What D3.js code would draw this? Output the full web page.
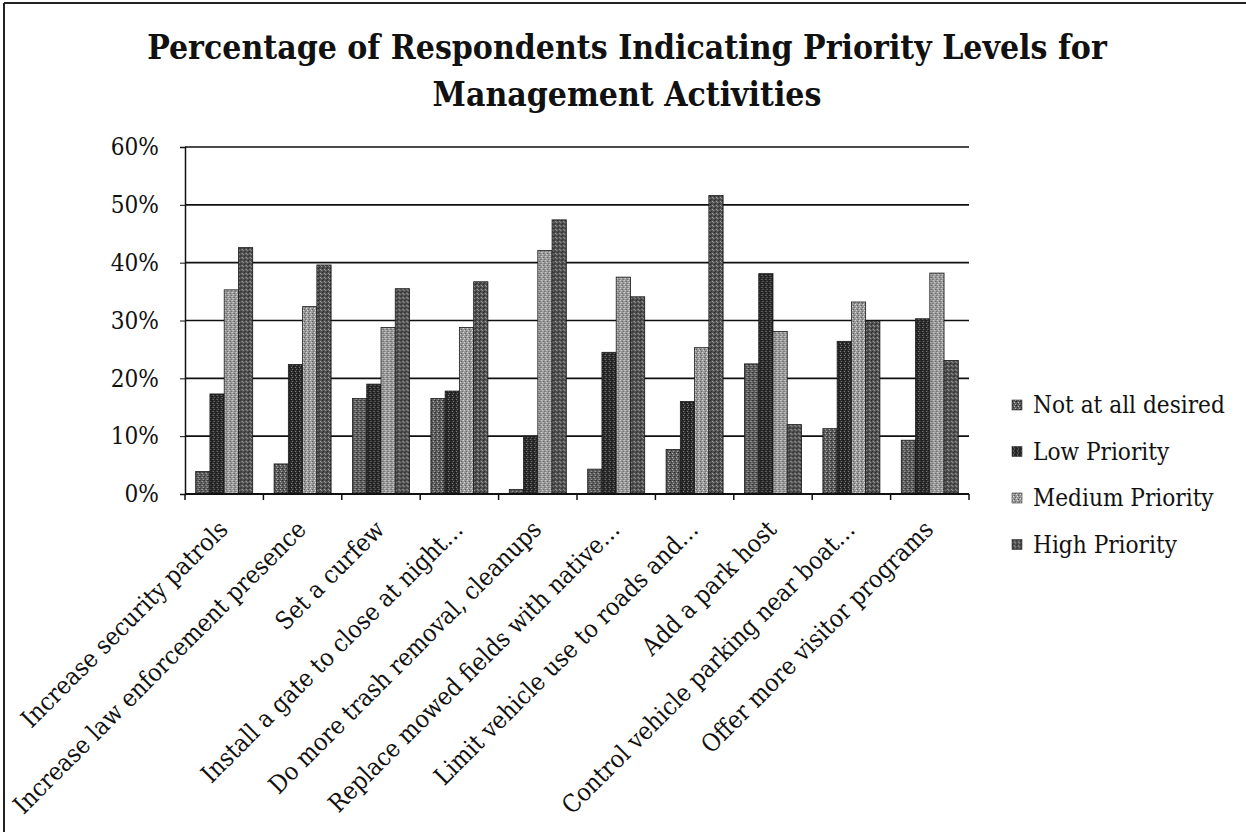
<!DOCTYPE html>
<html>
<head>
<meta charset="utf-8">
<script src="https://cdn.jsdelivr.net/npm/d3@7"></script>
<style>
  html, body { margin: 0; padding: 0; background: #fff; }
  svg { display: block; }
  text { font-family: "DejaVu Serif Condensed", "DejaVu Serif", serif; fill: #111; }
</style>
</head>
<body>
<svg id="chart" width="1246" height="832"></svg>
<script>
// Survey results: share of respondents per priority level, by management activity (%)
const categories = [
  "Increase security patrols",
  "Increase law enforcement presence",
  "Set a curfew",
  "Install a gate to close at night…",
  "Do more trash removal, cleanups",
  "Replace mowed fields with native…",
  "Limit vehicle use to roads and…",
  "Add a park host",
  "Control vehicle parking near boat…",
  "Offer more visitor programs"
];
const seriesNames = ["Not at all desired", "Low Priority", "Medium Priority", "High Priority"];
const notAtAllDesired = [3.9, 5.2, 16.5, 16.5, 0.8, 4.3, 7.7, 22.5, 11.3, 9.3];
const lowPriority     = [17.3, 22.4, 19.0, 17.8, 10.0, 24.5, 16.0, 38.1, 26.4, 30.3];
const mediumPriority  = [35.3, 32.4, 28.8, 28.8, 42.1, 37.5, 25.3, 28.1, 33.2, 38.2];
const highPriority    = [42.6, 39.6, 35.5, 36.7, 47.4, 34.1, 51.6, 12.0, 29.9, 23.1];
const yTicks = [0, 10, 20, 30, 40, 50, 60];
const titleLines = ["Percentage of Respondents Indicating Priority Levels for", "Management Activities"];

const seriesValues = [notAtAllDesired, lowPriority, mediumPriority, highPriority];

const svg = d3.select("#chart");
const plot = { left: 185, right: 969, top: 147, bottom: 494 };

// Fit a font size so that a reference string spans the given width
function fitSize(str, width, weight) {
  const t = svg.append("text").attr("font-size", 100).attr("font-weight", weight || "normal").text(str);
  const w = t.node().getComputedTextLength();
  t.remove();
  return 100 * width / w;
}

// Frame lines at top and left edge
svg.append("line").attr("x1", 4).attr("y1", 3).attr("x2", 1246).attr("y2", 3)
  .attr("stroke", "#222").attr("stroke-width", 2);
svg.append("line").attr("x1", 4).attr("y1", 3).attr("x2", 4).attr("y2", 832)
  .attr("stroke", "#222").attr("stroke-width", 2);

// Halftone-like fills for the four series
const defs = svg.append("defs");
const fills = [
  { base: "#5e5e5e", dots: [[0,0,"#222"],[2,1,"#bbb"],[1,2,"#333"],[3,3,"#aaa"],[3,0,"#444"]] },
  { base: "#2c2c2c", dots: [[0,0,"#111"],[2,1,"#777"],[1,3,"#888"],[3,2,"#111"]] },
  { base: "#999", dots: [[0,0,"#e0e0e0"],[2,1,"#555"],[1,2,"#ddd"],[3,3,"#666"]] },
  { base: "#535353", dots: [[0,0,"#222"],[2,1,"#aaa"],[1,3,"#2a2a2a"],[3,2,"#999"]] }
];
fills.forEach((f, i) => {
  const p = defs.append("pattern").attr("id", "fill" + i)
    .attr("width", 4).attr("height", 4).attr("patternUnits", "userSpaceOnUse");
  p.append("rect").attr("width", 4).attr("height", 4).attr("fill", f.base);
  f.dots.forEach(d => p.append("rect").attr("x", d[0]).attr("y", d[1]).attr("width", 1).attr("height", 1).attr("fill", d[2]));
});

// Scales
const x = d3.scaleBand().domain(categories).range([plot.left, plot.right])
  .paddingInner(1.5 / 5.5).paddingOuter(0.75 / 5.5);
const xs = d3.scaleBand().domain(seriesNames).range([0, x.bandwidth()]);
const y = d3.scaleLinear().domain([0, 60]).range([plot.bottom, plot.top]);

// Title
const titleSize = fitSize(titleLines[0], 960, "bold");
svg.selectAll("text.title").data(titleLines).join("text")
  .attr("class", "title")
  .attr("x", 627).attr("y", (d, i) => 59 + i * 47)
  .attr("text-anchor", "middle").attr("font-weight", "bold")
  .attr("font-size", titleSize).text(d => d);

// Gridlines and y-axis
const labelSize = fitSize("Not at all desired", 192);
const yAxis = svg.append("g").attr("transform", `translate(${plot.left},0)`)
  .call(d3.axisLeft(y).tickValues(yTicks).tickFormat(d => d + "%").tickSize(5).tickPadding(21));
yAxis.select(".domain").attr("stroke", "#111").attr("stroke-width", 1.5);
yAxis.selectAll(".tick line").attr("stroke", "#111");
yAxis.selectAll(".tick text").attr("font-size", labelSize).attr("font-family", null).attr("fill", "#111");

svg.append("g").selectAll("line").data(yTicks.filter(d => d > 0)).join("line")
  .attr("x1", plot.left).attr("x2", plot.right)
  .attr("y1", d => y(d)).attr("y2", d => y(d))
  .attr("stroke", "#111").attr("stroke-width", 1.6);

// Bars
const groups = svg.append("g").selectAll("g").data(categories).join("g")
  .attr("transform", d => `translate(${x(d)},0)`);
groups.selectAll("rect")
  .data((c, ci) => seriesNames.map((s, si) => ({ s, si, v: seriesValues[si][ci] })))
  .join("rect")
  .attr("x", d => xs(d.s)).attr("width", xs.bandwidth())
  .attr("y", d => y(d.v)).attr("height", d => y(0) - y(d.v))
  .attr("fill", d => `url(#fill${d.si})`)
  .attr("stroke", "#1a1a1a").attr("stroke-width", 0.8);

// Category axis with ticks between categories
svg.append("line").attr("x1", plot.left).attr("x2", plot.right)
  .attr("y1", plot.bottom).attr("y2", plot.bottom)
  .attr("stroke", "#111").attr("stroke-width", 2);
const boundaries = d3.range(categories.length + 1).map(i => plot.left + i * x.step());
svg.append("g").selectAll("line").data(boundaries).join("line")
  .attr("x1", d => d).attr("x2", d => d)
  .attr("y1", plot.bottom).attr("y2", plot.bottom + 6)
  .attr("stroke", "#111").attr("stroke-width", 1.5);

const catSize = fitSize("Increase law enforcement presence", 402);
svg.append("g").selectAll("text").data(categories).join("text")
  .attr("transform", d => `translate(${x(d) + x.bandwidth() / 2 + 5},531) rotate(-45)`)
  .attr("text-anchor", "end")
  .attr("font-size", catSize)
  .text(d => d);

// Legend
const legend = svg.append("g").selectAll("g").data(seriesNames).join("g")
  .attr("transform", (d, i) => `translate(1012,${405 + i * 46.5})`);
legend.append("rect").attr("x", 0).attr("y", -5).attr("width", 10).attr("height", 10)
  .attr("fill", (d, i) => `url(#fill${i})`).attr("stroke", "#333").attr("stroke-width", 0.6);
legend.append("text").attr("x", 21).attr("y", 0).attr("dy", "0.35em")
  .attr("font-size", labelSize).text(d => d);
</script>
</body>
</html>
